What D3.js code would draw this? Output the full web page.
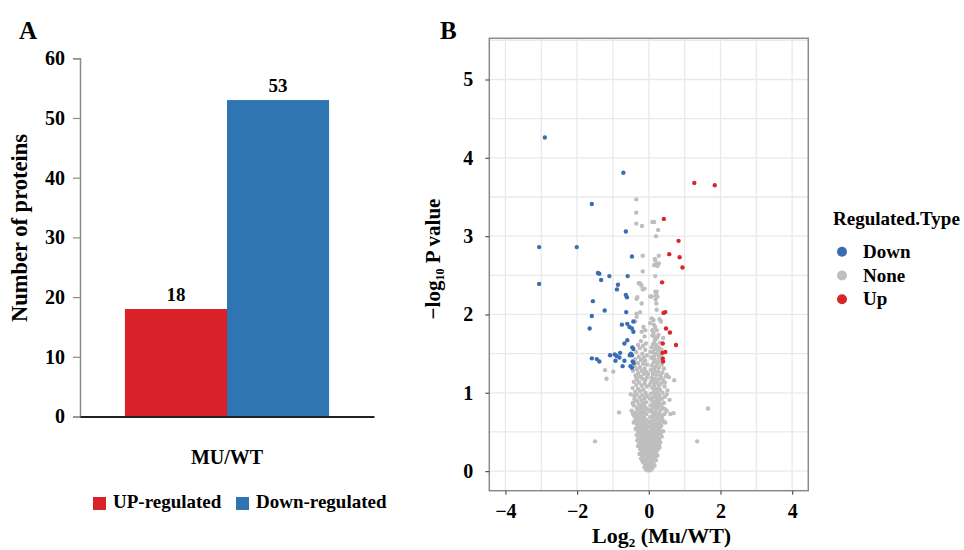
<!DOCTYPE html>
<html>
<head>
<meta charset="utf-8">
<script src="https://cdn.jsdelivr.net/npm/d3@7"></script>
<style>
  body { margin: 0; background: #fff; }
  svg { display: block; font-family: "Liberation Serif", "Times New Roman", serif; font-weight: bold; }
</style>
</head>
<body>
<div id="chart"></div>
<script>
// panel A data
const groups = ['MU/WT'];
const barCategories = ['UP-regulated', 'Down-regulated'];
const barValues = [18, 53];
const barColors = ['#d92129', '#2e75b1'];
const countTicks = [0, 10, 20, 30, 40, 50, 60];

// panel B data: [log2 fold change, -log10 p]
const downPoints = [
  [-2.90, 4.26], [-0.71, 3.81], [-1.59, 3.41], [-0.64, 3.06], [-3.06, 2.86], [-2.01, 2.86],
  [-0.47, 2.74], [-3.06, 2.39], [-1.42, 2.53], [-1.38, 2.52], [-1.10, 2.49], [-0.59, 2.49],
  [-1.33, 2.44], [-0.86, 2.38], [-0.89, 2.32], [-0.64, 2.25], [-0.61, 2.22], [-1.56, 2.17],
  [-1.23, 2.05], [-0.63, 2.03], [-1.59, 1.98], [-1.65, 1.82], [-0.75, 1.87], [-0.60, 1.88],
  [-0.43, 1.91], [-0.54, 1.84], [-0.47, 1.82], [-0.43, 1.78], [-0.60, 1.67], [-0.68, 1.63],
  [-0.46, 1.58], [-0.43, 1.56], [-1.59, 1.44], [-1.45, 1.43], [-1.38, 1.40], [-1.08, 1.48],
  [-0.95, 1.49], [-0.90, 1.47], [-0.80, 1.51], [-0.93, 1.41], [-0.82, 1.45], [-0.68, 1.41],
  [-0.73, 1.34], [-0.50, 1.50], [-0.47, 1.48], [-0.53, 1.48], [-0.45, 1.40], [-0.51, 1.34],
  [-0.47, 1.32], [-0.42, 1.38]
];
const upPoints = [
  [1.27, 3.68], [1.84, 3.65], [0.42, 3.22], [0.83, 2.94], [0.57, 2.77], [0.86, 2.73],
  [0.94, 2.60], [0.37, 2.41], [0.41, 2.02], [0.46, 2.03], [0.48, 1.82], [0.59, 1.77],
  [0.76, 1.61], [0.39, 1.63], [0.38, 1.51], [0.46, 1.52], [0.39, 1.44], [0.40, 1.40]
];
const nonePoints = [
  [-0.35, 3.47], [-0.35, 3.30], [-0.35, 3.16], [-0.19, 3.13], [0.10, 3.18], [0.15, 3.18],
  [0.26, 3.08], [0.20, 3.00], [-0.17, 2.75], [0.28, 2.75], [0.17, 2.71], [0.18, 2.69],
  [0.15, 2.63], [0.19, 2.63], [0.22, 2.64], [0.28, 2.65], [0.24, 2.62], [-0.17, 2.55],
  [0.18, 2.49], [-0.25, 2.40], [-0.21, 2.37], [-0.12, 2.33], [-0.17, 2.32], [0.22, 2.29],
  [0.24, 2.23], [0.20, 2.25], [0.08, 2.23], [-0.32, 2.22], [-0.28, 2.40], [-0.22, 2.38],
  [-0.34, 2.20], [-0.34, 2.01], [-0.20, 2.14], [0.04, 2.23], [0.18, 2.29], [0.20, 2.24],
  [0.19, 2.19], [0.21, 2.14], [0.22, 2.06], [-0.24, 2.03], [-0.34, 1.97], [-0.38, 1.91],
  [0.08, 1.95], [0.13, 1.93], [0.04, 1.89], [0.30, 1.94], [0.34, 1.91], [-0.15, 1.84],
  [-0.20, 1.78], [-0.10, 1.80], [0.18, 1.84], [0.22, 1.80], [0.13, 1.76], [0.27, 1.74],
  [0.20, 1.69], [0.14, 1.87], [0.10, 1.80], [0.17, 1.71], [0.28, 1.58], [0.05, 1.52], [0.35, 1.55],
  [-0.12, 1.72], [-0.22, 1.66], [-0.08, 1.63], [-0.30, 1.61], [-0.16, 1.60],
  [0.10, 1.73], [0.24, 1.71], [0.16, 1.66], [0.31, 1.64], [0.12, 1.62], [0.20, 1.61], [0.40, 1.70],
  [-0.25, 1.57], [-0.10, 1.55], [-0.35, 1.52], [-0.18, 1.50], [-0.05, 1.48], [-0.28, 1.46], [-0.14, 1.45],
  [0.08, 1.58], [0.18, 1.56], [0.26, 1.54], [0.12, 1.52], [0.22, 1.50], [0.33, 1.49], [0.15, 1.47],
  [0.28, 1.46], [0.07, 1.45],
  [-0.38, 1.43], [-0.22, 1.42], [-0.10, 1.41], [-0.30, 1.38], [-0.16, 1.37], [-0.05, 1.36],
  [-0.40, 1.34], [-0.25, 1.33], [-0.12, 1.31], [-0.33, 1.30],
  [0.10, 1.44], [0.19, 1.42], [0.30, 1.41], [0.14, 1.39], [0.24, 1.37], [0.36, 1.36], [0.08, 1.35],
  [0.18, 1.33], [0.28, 1.32], [0.42, 1.31], [0.12, 1.30],
  [-0.44, 1.28], [-0.20, 1.28], [-0.08, 1.27], [-0.30, 1.25], [-0.14, 1.24], [-0.37, 1.22],
  [-0.24, 1.21], [-0.05, 1.20], [-0.18, 1.18], [-0.32, 1.17], [-0.10, 1.16], [-0.35, 1.19],
  [-0.02, 1.24], [0.02, 1.10], [0.35, 1.19], [0.45, 1.13],
  [0.06, 1.29], [0.16, 1.28], [0.26, 1.27], [0.38, 1.26], [0.11, 1.24], [0.21, 1.23], [0.32, 1.22],
  [0.48, 1.21], [0.08, 1.19], [0.17, 1.18], [0.27, 1.17], [0.40, 1.16], [0.13, 1.15], [0.56, 1.20],
  [-0.42, 1.14], [-0.27, 1.13], [-0.12, 1.12], [-0.35, 1.10], [-0.20, 1.09], [-0.06, 1.08],
  [-0.45, 1.06], [-0.30, 1.05], [-0.15, 1.04], [-0.24, 1.02], [-0.38, 1.01], [-0.09, 1.00],
  [0.07, 1.14], [0.22, 1.13], [0.34, 1.12], [0.15, 1.10], [0.28, 1.09], [0.44, 1.08], [0.10, 1.06],
  [0.20, 1.05], [0.31, 1.04], [0.52, 1.03], [0.14, 1.01], [0.25, 1.00], [0.38, 1.00],
  [-0.50, 0.98], [-0.33, 0.98], [-0.18, 0.97], [-0.05, 0.96], [-0.26, 0.94], [-0.12, 0.93],
  [-0.40, 0.92], [-0.20, 0.90], [-0.32, 0.89], [-0.08, 0.88], [-0.45, 0.87], [-0.15, 0.86], [-0.27, 0.85],
  [-0.40, 0.96], [0.50, 0.98], [0.02, 0.93], [-0.36, 0.90], [0.26, 0.91],
  [0.06, 0.99], [0.18, 0.97], [0.30, 0.96], [0.45, 0.95], [0.12, 0.94], [0.23, 0.93], [0.36, 0.92],
  [0.58, 0.91], [0.08, 0.90], [0.19, 0.89], [0.28, 0.88], [0.42, 0.87], [0.14, 0.86], [0.33, 0.85], [0.24, 0.85],
  [-0.42, 0.84], [-0.22, 0.83], [-0.10, 0.82], [-0.34, 0.81], [-0.17, 0.80], [-0.04, 0.79],
  [-0.28, 0.78], [-0.48, 0.77], [-0.13, 0.76], [-0.37, 0.75], [-0.23, 0.74], [-0.07, 0.73],
  [-0.31, 0.72], [-0.18, 0.71], [-0.40, 0.70], [-0.25, 0.80], [0.45, 0.79], [0.02, 0.77],
  [-0.44, 0.73], [0.33, 0.72], [-0.20, 0.75],
  [0.05, 0.84], [0.16, 0.83], [0.27, 0.82], [0.39, 0.81], [0.10, 0.80], [0.21, 0.79], [0.33, 0.78],
  [0.50, 0.77], [0.07, 0.76], [0.17, 0.75], [0.28, 0.74], [0.44, 0.73], [0.12, 0.72], [0.23, 0.71],
  [0.36, 0.70], [0.60, 0.73],
  [-0.28, 0.69], [-0.12, 0.68], [-0.36, 0.67], [-0.20, 0.66], [-0.05, 0.65], [-0.30, 0.64],
  [-0.15, 0.63], [-0.42, 0.62], [-0.24, 0.61], [-0.09, 0.60], [-0.33, 0.59], [-0.18, 0.58],
  [-0.03, 0.57], [-0.27, 0.56], [-0.12, 0.55], [0.40, 0.63], [-0.38, 0.64], [0.01, 0.62],
  [-0.20, 0.60], [0.28, 0.61],
  [0.04, 0.69], [0.14, 0.68], [0.26, 0.67], [0.38, 0.66], [0.09, 0.65], [0.19, 0.64], [0.31, 0.63],
  [0.46, 0.62], [0.06, 0.61], [0.16, 0.60], [0.25, 0.59], [0.35, 0.58], [0.11, 0.57], [0.21, 0.56],
  [0.30, 0.55], [0.03, 0.56],
  [-0.37, 0.54], [-0.21, 0.53], [-0.07, 0.52], [-0.30, 0.51], [-0.15, 0.50], [-0.02, 0.49],
  [-0.25, 0.48], [-0.10, 0.47], [-0.34, 0.46], [-0.18, 0.45], [-0.05, 0.44], [-0.28, 0.43],
  [-0.13, 0.42], [-0.22, 0.41], [-0.08, 0.40], [0.32, 0.50], [-0.26, 0.52], [0.00, 0.50],
  [-0.12, 0.49], [0.20, 0.47],
  [0.07, 0.54], [0.17, 0.53], [0.28, 0.52], [0.40, 0.51], [0.12, 0.50], [0.22, 0.49], [0.33, 0.48],
  [0.05, 0.47], [0.15, 0.46], [0.25, 0.45], [0.36, 0.44], [0.09, 0.43], [0.19, 0.42], [0.29, 0.41], [0.03, 0.40],
  [-0.32, 0.39], [-0.17, 0.38], [-0.04, 0.37], [-0.26, 0.36], [-0.11, 0.35], [-0.20, 0.33],
  [-0.30, 0.32], [-0.07, 0.31], [-0.15, 0.30], [-0.24, 0.28], [-0.02, 0.27], [-0.10, 0.26],
  [-0.30, 0.40], [0.24, 0.40], [0.00, 0.43], [-0.15, 0.34], [0.20, 0.36], [-0.02, 0.32],
  [0.28, 0.33], [-0.21, 0.30], [0.10, 0.27], [-0.16, 0.26], [0.18, 0.25], [-0.05, 0.25],
  [0.12, 0.39], [0.22, 0.38], [0.32, 0.37], [0.06, 0.36], [0.16, 0.35], [0.26, 0.34], [0.02, 0.33],
  [0.11, 0.32], [0.20, 0.31], [0.30, 0.30], [0.07, 0.29], [0.15, 0.28], [0.24, 0.27], [0.04, 0.26],
  [-0.20, 0.24], [-0.08, 0.23], [-0.26, 0.22], [-0.14, 0.21], [-0.03, 0.20], [-0.18, 0.19],
  [-0.10, 0.17], [-0.22, 0.16], [-0.05, 0.15], [-0.14, 0.14], [-0.08, 0.12],
  [-0.12, 0.19], [0.16, 0.20], [0.00, 0.17], [0.11, 0.13], [-0.18, 0.13],
  [0.10, 0.24], [0.20, 0.23], [0.02, 0.22], [0.14, 0.21], [0.24, 0.20], [0.07, 0.19], [0.17, 0.18],
  [0.03, 0.16], [0.12, 0.15], [0.20, 0.14], [0.06, 0.12],
  [-0.15, 0.11], [-0.04, 0.10], [0.02, 0.10], [0.13, 0.10], [-0.10, 0.08], [0.08, 0.08],
  [-0.02, 0.07], [0.16, 0.07], [-0.12, 0.05], [0.04, 0.05], [-0.06, 0.04], [0.10, 0.04],
  [0.00, 0.02], [-0.03, 0.01], [0.05, 0.01], [-0.08, 0.02],
  [-0.83, 0.75], [1.65, 0.80], [1.35, 0.38], [-1.50, 0.38], [0.69, 0.74], [-1.22, 1.29],
  [-0.99, 1.27], [-1.18, 1.18], [0.71, 1.16], [0.50, 1.23]
];
const typeNames = ['Down', 'None', 'Up'];
const typeColors = ['#3a6db3', '#bebebe', '#d6282a'];
const fcTicks = [-4, -2, 0, 2, 4];
const pTicks = [0, 1, 2, 3, 4, 5];

const svg = d3.select('#chart').append('svg')
  .attr('width', 964)
  .attr('height', 550);

// ---------- panel A ----------
const a = svg.append('g');

a.append('text')
  .attr('x', 19).attr('y', 39)
  .style('font-size', '25px')
  .text('A');

const yA = d3.scaleLinear().domain([0, 60]).range([416.5, 58.3]);
const xGroup = d3.scaleBand().domain(groups).range([80, 374]).paddingOuter(0.22);
const xBar = d3.scaleBand().domain(barCategories).range([0, xGroup.bandwidth()]);

const yAxisA = a.append('g')
  .attr('transform', 'translate(80,0)')
  .call(d3.axisLeft(yA).tickValues(countTicks).tickSize(7).tickPadding(8));
yAxisA.select('.domain').attr('stroke', '#8c8c8c').attr('stroke-width', 1.5);
yAxisA.selectAll('.tick line').attr('stroke', '#8c8c8c').attr('stroke-width', 1.2);
yAxisA.selectAll('.tick text')
  .attr('fill', '#000')
  .style('font-size', '20px')
  .style('font-family', '"Liberation Serif", serif')
  .style('font-weight', 'bold');

const bars = a.append('g');
groups.forEach(g => {
  bars.selectAll('rect')
    .data(barCategories)
    .enter()
    .append('rect')
      .attr('x', d => xGroup(g) + xBar(d))
      .attr('y', (d, i) => yA(barValues[i]))
      .attr('width', xBar.bandwidth())
      .attr('height', (d, i) => yA(0) - yA(barValues[i]))
      .attr('fill', (d, i) => barColors[i]);
  bars.selectAll('text.val')
    .data(barCategories)
    .enter()
    .append('text')
      .attr('class', 'val')
      .attr('x', d => xGroup(g) + xBar(d) + xBar.bandwidth() / 2)
      .attr('y', (d, i) => yA(barValues[i]) - 8)
      .attr('text-anchor', 'middle')
      .style('font-size', '19px')
      .text((d, i) => barValues[i]);
});

const xAxisA = a.append('g')
  .attr('transform', `translate(0,${yA(0)})`)
  .call(d3.axisBottom(xGroup).tickSize(0).tickPadding(33));
xAxisA.select('.domain').attr('stroke', '#222').attr('stroke-width', 2);
xAxisA.selectAll('.tick text')
  .attr('fill', '#000')
  .style('font-size', '20px')
  .style('font-family', '"Liberation Serif", serif')
  .style('font-weight', 'bold');

a.append('text')
  .attr('transform', 'translate(27,228) rotate(-90)')
  .attr('text-anchor', 'middle')
  .style('font-size', '22.5px')
  .text('Number of proteins');

// legend A
const legA = a.append('g').attr('transform', 'translate(93,497)');
const legX = [0, 143];
barCategories.forEach((c, i) => {
  legA.append('rect')
    .attr('x', legX[i]).attr('y', 0)
    .attr('width', 13).attr('height', 13)
    .attr('fill', barColors[i]);
  legA.append('text')
    .attr('x', legX[i] + 20).attr('y', 11)
    .style('font-size', '19px')
    .text(c);
});

// ---------- panel B ----------
const b = svg.append('g');

b.append('text')
  .attr('x', 440).attr('y', 39)
  .style('font-size', '25px')
  .text('B');

const pLeft = 489.3, pRight = 808.3, pTop = 38.3, pBottom = 490.7;
const xB = d3.scaleLinear().domain([-4.45, 4.45]).range([pLeft, pRight]);
const yB = d3.scaleLinear().domain([-0.25, 5.526]).range([pBottom, pTop]);

// grid
const grid = b.append('g').attr('stroke', '#e9e9e9').attr('stroke-width', 1.3);
grid.selectAll('line.v')
  .data(d3.range(-4, 5, 1))
  .enter().append('line')
    .attr('class', 'v')
    .attr('x1', d => xB(d)).attr('x2', d => xB(d))
    .attr('y1', pTop).attr('y2', pBottom);
grid.selectAll('line.h')
  .data(d3.range(0, 5.6, 0.5))
  .enter().append('line')
    .attr('class', 'h')
    .attr('y1', d => yB(d)).attr('y2', d => yB(d))
    .attr('x1', pLeft).attr('x2', pRight);

const pointSets = [downPoints, nonePoints, upPoints];
const drawOrder = [1, 0, 2];
drawOrder.forEach(k => {
  b.append('g').selectAll('circle')
    .data(pointSets[k])
    .enter().append('circle')
      .attr('cx', d => xB(d[0]))
      .attr('cy', d => yB(d[1]))
      .attr('r', 2.2)
      .attr('fill', typeColors[k]);
});

b.append('rect')
  .attr('x', pLeft).attr('y', pTop)
  .attr('width', pRight - pLeft).attr('height', pBottom - pTop)
  .attr('fill', 'none')
  .attr('stroke', '#8a8a8a')
  .attr('stroke-width', 1.5);

const styleAxis = sel => {
  sel.select('.domain').remove();
  sel.selectAll('.tick line').attr('stroke', '#555').attr('stroke-width', 1.2);
  sel.selectAll('.tick text')
    .attr('fill', '#000')
    .style('font-size', '20px')
    .style('font-family', '"Liberation Serif", serif')
    .style('font-weight', 'bold');
};

b.append('g')
  .attr('transform', `translate(0,${pBottom})`)
  .call(d3.axisBottom(xB).tickValues(fcTicks).tickSize(4).tickPadding(9)
    .tickFormat(d => d < 0 ? '\u2212' + Math.abs(d) : d))
  .call(styleAxis);

b.append('g')
  .attr('transform', `translate(${pLeft},0)`)
  .call(d3.axisLeft(yB).tickValues(pTicks).tickSize(4).tickPadding(12).tickFormat(d3.format('d')))
  .call(styleAxis);

// axis titles
const xt = b.append('text')
  .attr('x', 592).attr('y', 543)
  .style('font-size', '22px');
xt.append('tspan').text('Log');
xt.append('tspan').attr('dy', 4).style('font-size', '13px').text('2');
xt.append('tspan').attr('dy', -4).text(' (Mu/WT)');

const yt = b.append('text')
  .attr('transform', 'translate(440,259) rotate(-90)')
  .attr('text-anchor', 'middle')
  .style('font-size', '21px');
yt.append('tspan').text('\u2212log');
yt.append('tspan').attr('dy', 4).style('font-size', '12px').text('10');
yt.append('tspan').attr('dy', -4).text(' P value');

// legend B
const legB = b.append('g');
legB.append('text')
  .attr('x', 833).attr('y', 225)
  .style('font-size', '19px')
  .text('Regulated.Type');
typeNames.forEach((t, i) => {
  const cy = 251.7 + i * 23.8;
  legB.append('circle')
    .attr('cx', 842).attr('cy', cy).attr('r', 5)
    .attr('fill', typeColors[i]);
  legB.append('text')
    .attr('x', 863).attr('y', cy + 6)
    .style('font-size', '19px')
    .text(t);
});
</script>
</body>
</html>
